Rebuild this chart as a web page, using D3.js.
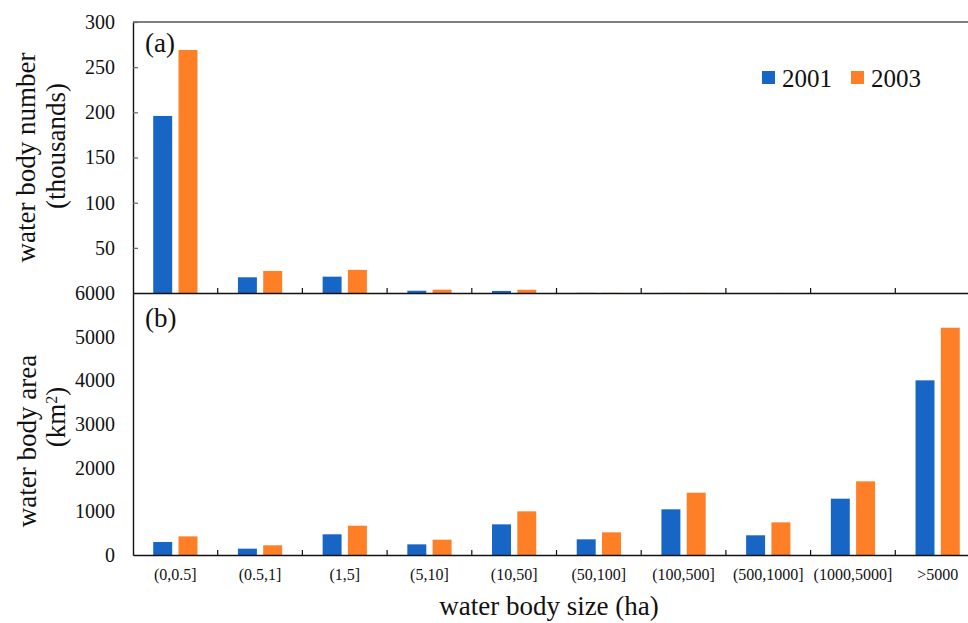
<!DOCTYPE html>
<html><head><meta charset="utf-8">
<script src="https://cdn.jsdelivr.net/npm/d3@7"></script>
<style>
body{margin:0;background:#fff}
text{font-family:"Liberation Serif","Times New Roman",serif;fill:#111}
</style>
</head><body><svg id="c" width="968" height="623"></svg>
<script>
const categories = ["(0,0.5]","(0.5,1]","(1,5]","(5,10]","(10,50]","(50,100]","(100,500]","(500,1000]","(1000,5000]",">5000"];
const seriesNames = ["2001","2003"];
const number2001 = [196, 17.4, 18.1, 2.5, 2.3, 0.15, 0.1, 0.01, 0.01, 0.001];
const number2003 = [269, 24.4, 25.6, 3.7, 3.6, 0.2, 0.15, 0.02, 0.01, 0.002];
const area2001 = [298, 145, 474, 244, 702, 359, 1046, 451, 1290, 4000];
const area2003 = [427, 222, 671, 351, 1000, 519, 1427, 748, 1687, 5205];
const numberTicks = [50,100,150,200,250,300];
const areaTicks = [0,1000,2000,3000,4000,5000,6000];
const colors = {"2001":"#1766C6","2003":"#FF7F27"};
const SERIF = '"Liberation Serif","Times New Roman",serif';

const svg = d3.select("#c");
svg.append("rect").attr("width",968).attr("height",623).attr("fill","#fff");

const L = 133, R = 980, TA = 22, BA = 293, BB = 555;
const x0 = d3.scaleBand().domain(categories).range([L, R]).padding(0);
const x1 = d3.scaleBand().domain(seriesNames).range([0, x0.bandwidth()]).paddingInner(0.25).paddingOuter(0.8);
const yA = d3.scaleLinear().domain([0,300]).range([BA, TA]);
const yB = d3.scaleLinear().domain([0,6000]).range([BB, BA]);

const numberData = categories.map((c,i)=>({c, v:{"2001":number2001[i],"2003":number2003[i]}}));
const areaData = categories.map((c,i)=>({c, v:{"2001":area2001[i],"2003":area2003[i]}}));

function drawBars(data, y){
  const g = svg.append("g").selectAll("g").data(data).join("g")
    .attr("transform", d=>`translate(${x0(d.c)},0)`);
  g.selectAll("rect").data(d=>seriesNames.map(s=>({s, v:d.v[s]}))).join("rect")
    .attr("x", d=>x1(d.s)).attr("width", x1.bandwidth())
    .attr("y", d=>y(d.v)).attr("height", d=>y(0)-y(d.v))
    .attr("fill", d=>colors[d.s]);
}
drawBars(numberData, yA);
drawBars(areaData, yB);

// top border
svg.append("line").attr("x1",L).attr("x2",R).attr("y1",TA).attr("y2",TA)
  .attr("stroke","#555").attr("stroke-width",1.6);

// y axes
const fmt = d3.format("d");
const axA = svg.append("g").attr("transform",`translate(${L},0)`)
  .call(d3.axisLeft(yA).tickValues(numberTicks).tickFormat(fmt).tickSizeInner(-5).tickSizeOuter(0).tickPadding(18));
const axB = svg.append("g").attr("transform",`translate(${L},0)`)
  .call(d3.axisLeft(yB).tickValues(areaTicks).tickFormat(fmt).tickSizeInner(0).tickSizeOuter(0).tickPadding(18));
[axA, axB].forEach(a=>{
  a.attr("font-family", SERIF).attr("font-size", 20);
  a.select(".domain").attr("stroke","#111").attr("stroke-width",1.4);
  a.selectAll(".tick line").attr("stroke","#666").attr("stroke-width",1.2);
  a.selectAll(".tick text").style("font-size","20px").attr("fill","#111").style("font-family",SERIF);
});

// x axes
function xAxis(yPos, labels){
  const a = svg.append("g").attr("transform",`translate(0,${yPos})`)
    .call(d3.axisBottom(x0).tickSize(0).tickSizeOuter(0).tickPadding(14).tickFormat(labels ? d=>d : ()=>""));
  a.attr("font-family", SERIF).attr("font-size", 16);
  a.select(".domain").attr("stroke","#111").attr("stroke-width",1.4);
  a.selectAll(".tick text").style("font-size","16px").attr("fill","#222").style("font-family",SERIF);
  // boundary ticks pointing up
  a.append("g").selectAll("line").data(categories).join("line")
    .attr("x1", d=>x0(d)+x0.step()).attr("x2", d=>x0(d)+x0.step())
    .attr("y1", 0).attr("y2", -5).attr("stroke","#111").attr("stroke-width",1.2);
  return a;
}
xAxis(BA, false);
xAxis(BB, true);

// panel labels
svg.append("text").attr("x",145).attr("y",52).style("font-size","27px").text("(a)");
svg.append("text").attr("x",145).attr("y",327).style("font-size","27px").text("(b)");

// y titles
svg.append("text").attr("transform","translate(35,157.5) rotate(-90)").attr("text-anchor","middle")
  .style("font-size","27px").text("water body number");
svg.append("text").attr("transform","translate(65,146) rotate(-90)").attr("text-anchor","middle")
  .style("font-size","27px").text("(thousands)");
svg.append("text").attr("transform","translate(36,441) rotate(-90)").attr("text-anchor","middle")
  .style("font-size","27px").text("water body area");
const km = svg.append("text").attr("transform","translate(65,417) rotate(-90)").attr("text-anchor","middle")
  .style("font-size","27px");
km.append("tspan").text("(km");
km.append("tspan").attr("baseline-shift","super").style("font-size","16px").text("2");
km.append("tspan").text(")");

// x title
svg.append("text").attr("x",549).attr("y",615).attr("text-anchor","middle")
  .style("font-size","27px").text("water body size (ha)");

// legend
const leg = svg.append("g");
const legPos = [{s:"2001", x:762}, {s:"2003", x:851}];
legPos.forEach(p=>{
  leg.append("rect").attr("x",p.x).attr("y",71).attr("width",13).attr("height",13).attr("fill",colors[p.s]);
  leg.append("text").attr("x",p.x+20).attr("y",87).style("font-size","25px").text(p.s);
});
</script>
</body></html>
